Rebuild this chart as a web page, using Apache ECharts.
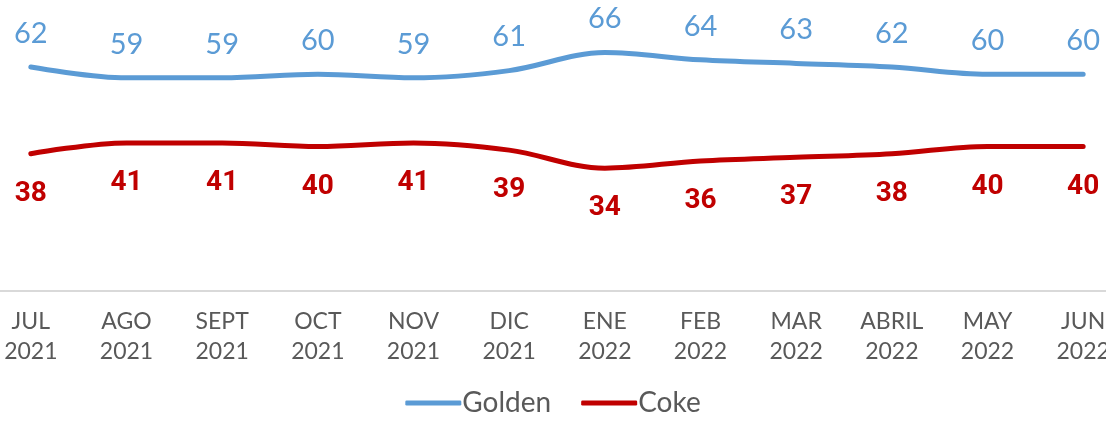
<!DOCTYPE html>
<html>
<head>
<meta charset="utf-8">
<script src="https://cdn.jsdelivr.net/npm/echarts@6/dist/echarts.min.js"></script>
<style>
html,body{margin:0;padding:0;background:#fff;}
#c{width:1106px;height:422px;}
</style>
</head>
<body>
<div id="c"></div>
<script>
const categories = ['JUL\n2021','AGO\n2021','SEPT\n2021','OCT\n2021','NOV\n2021','DIC\n2021','ENE\n2022','FEB\n2022','MAR\n2022','ABRIL\n2022','MAY\n2022','JUN\n2022'];
const golden = [62,59,59,60,59,61,66,64,63,62,60,60];
const coke = [38,41,41,40,41,39,34,36,37,38,40,40];

const chart = echarts.init(document.getElementById('c'));
chart.setOption({
  animation: false,
  grid: {left: -17, right: -25, top: 2, bottom: 131, outerBoundsMode: 'none', containLabel: false},
  xAxis: {
    type: 'category',
    data: categories,
    boundaryGap: true,
    axisLine: {show: true, lineStyle: {color: '#d9d9d9', width: 2}},
    axisTick: {show: false},
    axisLabel: {color: '#595959', fontSize: 23, lineHeight: 30, margin: 16, fontFamily: 'Lato', interval: 0}
  },
  yAxis: {
    type: 'value', min: 0, max: 80,
    show: false,
    splitLine: {show: false}
  },
  legend: {
    bottom: 0, left: 'center',
    itemWidth: 56, itemHeight: 5, itemGap: 30,
    icon: 'roundRect',
    textStyle: {color: '#595959', fontSize: 28, fontFamily: 'Lato', padding: [0,0,0,-4]},
    data: [
      {name: 'Golden', itemStyle: {color: '#5b9bd5', opacity: 1}},
      {name: 'Coke', itemStyle: {color: '#c00000', opacity: 1}}
    ]
  },
  series: [
    {
      name: 'Golden', type: 'line', data: golden, smooth: 0.35,
      symbol: 'circle', symbolSize: 0.1, showSymbol: true,
      lineStyle: {color: '#5b9bd5', width: 5, cap: 'round'},
      itemStyle: {color: '#5b9bd5'},
      label: {show: true, position: 'top', distance: 19, color: '#5b9bd5', fontSize: 29, fontFamily: 'Lato'}
    },
    {
      name: 'Coke', type: 'line', data: coke, smooth: 0.35,
      symbol: 'circle', symbolSize: 0.1, showSymbol: true,
      lineStyle: {color: '#c00000', width: 5, cap: 'round'},
      itemStyle: {color: '#c00000'},
      label: {show: true, position: 'bottom', distance: 26, color: '#c00000', fontSize: 28, fontWeight: 'bold', fontFamily: 'Roboto'}
    }
  ]
});
</script>
</body>
</html>
